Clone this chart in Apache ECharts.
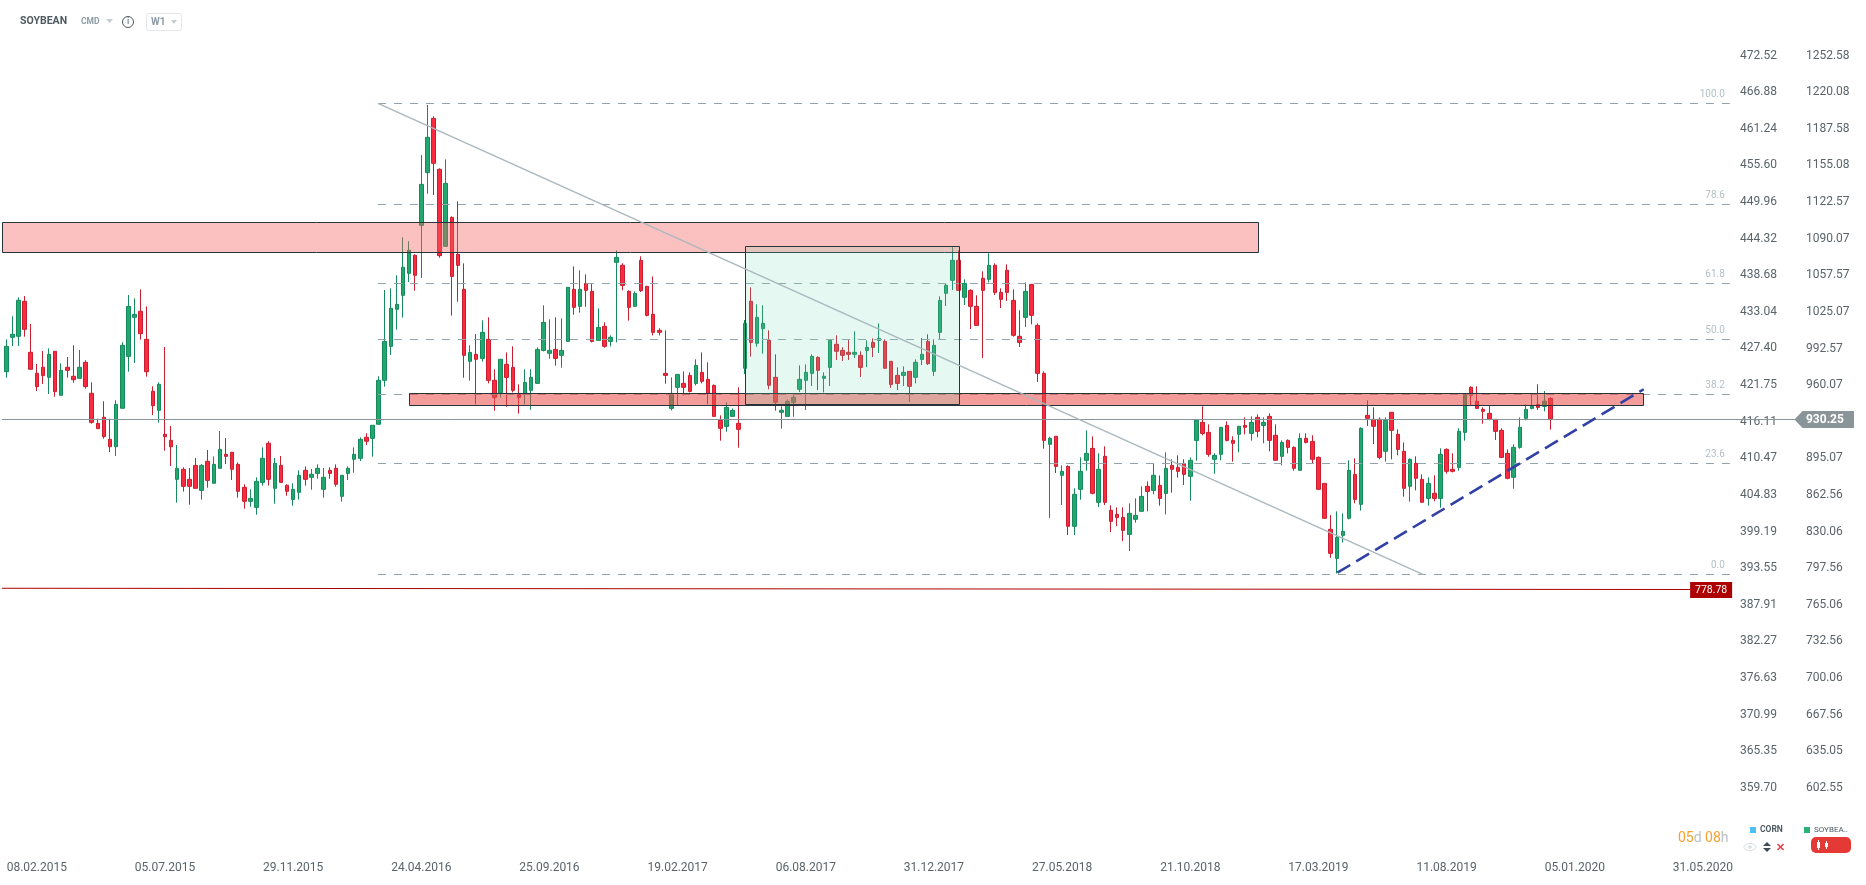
<!DOCTYPE html>
<html>
<head>
<meta charset="utf-8">
<style>html,body{margin:0;padding:0;background:#fff}#c{width:1866px;height:885px}</style>
<script src="https://cdn.jsdelivr.net/npm/echarts@6/dist/echarts.min.js"></script>
</head>
<body>
<div id="c"></div>
<script>
// Weekly SOYBEAN candles (prices)
const candleOpen = [
972.0,1002.5,1003.4,1034.5,989.2,970.5,975.9,967.0,990.1,951.0,
975.9,967.9,966.1,980.3,952.8,926.1,931.5,911.9,905.4,939.5,
985.6,1020.3,1025.6,1000.7,954.6,937.7,916.4,911.0,876.4,885.3,
876.4,888.8,866.6,892.4,872.9,886.2,898.6,900.4,889.7,869.3,
856.9,851.5,873.7,908.4,868.4,888.8,871.1,858.6,864.9,884.4,
878.2,881.7,867.5,884.4,886.2,861.3,881.7,894.2,895.1,913.7,
912.8,925.3,964.3,994.5,1027.4,1039.8,1059.3,1075.3,1101.9,1148.7,
1196.9,1151.7,1083.3,1109.0,1076.2,1045.1,981.2,987.4,983.8,1000.7,
964.3,953.3,978.5,975.8,951.8,952.7,955.4,961.6,990.9,988.3,
991.8,986.5,998.9,1045.1,1030.0,1050.4,1043.3,999.8,1012.2,998.9,
1069.1,1066.4,1043.3,1030.0,1070.8,1047.8,1022.9,1008.7,970.5,939.4,
958.1,961.6,968.7,961.6,971.4,965.2,959.8,928.8,923.4,932.3,
926.1,975.0,1034.5,997.2,1010.2,999.8,967.0,935.9,932.3,944.8,
956.3,964.3,970.5,984.7,966.1,975.8,996.3,990.9,989.2,987.4,
986.5,990.9,998.0,999.8,998.9,981.2,968.7,968.7,972.3,967.0,
982.9,998.9,972.3,1006.9,1041.6,1053.1,1070.9,1038.0,1044.2,1030.0,
1054.9,1054.0,1066.4,1042.4,1062.0,1035.3,1003.4,1020.2,1049.5,1013.1,
970.5,907.5,914.6,880.0,887.9,834.7,867.5,893.3,903.9,856.0,
896.8,848.9,845.3,842.6,827.5,840.9,848.0,870.2,866.6,871.1,
863.9,888.8,887.0,890.6,879.1,911.0,927.0,918.1,894.2,898.6,
924.3,911.0,916.4,924.3,917.2,931.4,924.3,932.3,915.5,896.8,
911.0,904.8,884.4,912.8,910.1,895.9,872.8,832.0,806.2,826.7,
841.8,880.8,854.2,933.2,929.7,929.7,901.3,935.9,916.4,901.3,
870.2,890.6,876.4,859.5,864.0,859.5,903.0,885.3,887.0,918.1,
958.1,945.7,938.5,935.0,929.7,919.9,899.5,878.2,904.8,930.6,
939.4,943.0,941.2,948.3];
const candleClose = [
994.5,1005.2,1035.4,1009.6,974.1,958.7,968.5,987.4,954.3,973.2,
973.2,964.9,975.9,958.7,927.0,921.4,914.3,905.4,943.0,995.4,
1030.0,1022.9,1005.8,972.0,941.8,960.8,914.3,905.4,886.2,870.2,
870.2,868.4,888.8,875.5,889.7,903.0,896.8,885.3,865.8,856.9,
859.5,874.6,895.1,876.4,890.6,873.7,865.8,867.5,880.0,876.4,
880.9,886.2,878.2,881.7,872.0,880.0,886.2,898.6,911.9,910.2,
924.4,964.3,998.9,1028.3,1031.8,1064.7,1079.8,1057.6,1138.3,1180.1,
1157.0,1075.0,1139.2,1056.6,1066.4,986.5,989.1,983.0,1006.9,964.3,
949.2,983.0,966.9,955.4,949.2,962.5,966.9,991.8,1015.8,990.9,
983.8,990.9,1046.9,1029.1,1045.1,1044.2,998.9,1011.3,994.5,1002.5,
1073.5,1048.6,1029.1,1041.5,1043.9,1022.0,1006.9,1006.9,968.7,952.7,
969.6,958.1,954.5,977.6,963.4,952.7,932.3,921.7,940.3,937.6,
920.8,1014.9,998.0,1020.2,1014.9,959.9,944.8,937.7,945.7,949.2,
965.2,971.4,985.6,973.2,967.9,999.8,990.1,986.5,987.4,989.2,
975.8,993.6,993.6,1001.6,975.0,960.7,961.6,971.4,959.0,980.3,
987.4,979.1,995.4,1035.3,1048.7,1070.9,1044.2,1050.4,1030.0,1013.1,
1044.2,1066.4,1042.4,1036.2,1042.4,1004.3,998.0,1043.3,1022.0,970.5,
911.0,912.8,887.9,883.5,834.7,863.1,883.5,899.5,864.0,885.3,
856.0,839.1,842.6,831.1,846.2,844.4,861.3,865.7,880.0,859.5,
886.2,885.3,883.5,880.8,893.3,928.8,917.2,898.6,897.7,922.6,
911.0,908.4,923.5,922.6,927.0,919.0,927.0,911.0,893.3,909.2,
904.8,886.2,912.8,909.2,894.2,867.5,841.8,810.7,824.9,830.2,
884.4,858.6,921.7,930.6,923.5,895.9,928.8,919.9,903.0,868.4,
894.2,877.3,856.0,872.8,859.5,898.6,883.5,883.5,919.0,951.9,
951.0,939.4,936.8,929.7,919.0,895.9,877.3,904.8,922.6,938.5,
941.2,940.3,945.7,930.25];
const candleLow = [
966.7,994.8,994.8,1003.1,974.1,954.9,961.1,952.2,949.8,951.0,
966.7,962.2,966.1,956.9,925.8,921.4,912.5,900.7,897.1,939.5,
972.0,979.7,1000.4,967.6,933.5,926.7,901.9,888.3,855.7,865.5,
853.9,868.4,858.4,869.0,872.9,886.2,890.0,875.8,860.1,850.4,
852.1,845.0,870.8,870.8,854.8,873.7,861.9,853.0,858.4,870.8,
867.2,877.0,860.1,877.0,869.9,856.6,875.8,882.3,892.7,906.9,
896.5,925.3,958.7,986.8,1009.3,1020.0,1051.6,1043.9,1055.2,1130.0,
1128.9,1073.2,1083.3,1021.7,1034.1,966.6,964.0,943.0,980.9,961.6,
937.3,949.2,940.9,953.6,934.7,943.0,938.2,961.6,990.0,983.5,
977.3,975.5,998.9,1022.6,1024.4,1029.7,998.0,999.8,993.3,994.5,
998.0,1044.2,1017.3,1030.0,1042.7,1021.1,1004.2,1004.2,961.3,937.6,
942.1,951.0,953.6,959.8,961.6,943.0,932.3,910.7,918.7,932.3,
904.5,969.9,985.3,994.2,988.0,956.3,937.4,921.4,932.3,932.0,
953.9,938.0,959.3,955.7,953.6,959.3,982.4,981.5,982.4,984.1,
967.3,976.1,985.0,988.6,975.0,957.5,955.7,959.3,945.1,961.6,
977.9,977.9,968.2,1000.7,1030.3,1044.5,1044.2,1031.2,1009.9,1013.1,
984.1,1051.3,1040.1,1028.5,1034.8,1003.1,993.9,1011.7,1014.0,962.8,
903.6,842.1,882.0,853.6,827.0,827.0,858.3,884.1,863.1,851.8,
853.6,829.6,834.9,821.6,812.8,837.9,848.0,848.0,863.1,853.0,
845.3,864.6,877.9,871.4,857.4,893.0,915.5,896.5,881.4,893.3,
910.1,892.1,900.4,916.4,910.7,913.7,908.4,901.3,893.3,888.8,
899.5,884.1,884.4,908.4,890.6,867.5,841.8,806.8,792.9,820.4,
840.9,855.1,848.6,923.8,907.8,894.2,892.1,894.2,897.7,861.0,
856.6,866.6,856.0,853.0,856.9,851.2,881.4,882.6,884.1,910.7,
942.1,939.4,925.8,928.8,911.3,895.6,876.4,868.1,903.6,928.8,
938.5,938.0,936.8,920.5];
const candleHigh = [
1000.7,1021.2,1038.0,1039.2,1014.3,978.8,990.4,992.7,990.1,979.4,
985.0,995.4,991.3,982.1,962.5,930.3,945.7,930.3,946.6,998.1,
1040.1,1037.1,1045.1,1030.0,959.0,962.5,993.9,923.8,906.9,887.1,
886.5,895.4,890.0,902.5,896.8,919.3,913.1,900.4,891.5,872.0,
867.5,878.2,904.8,910.2,895.4,897.1,872.0,872.9,884.4,887.9,
885.6,889.7,886.5,887.1,889.7,880.0,887.9,904.8,913.7,917.3,
924.4,967.9,1044.5,1046.0,1057.6,1091.3,1087.8,1076.2,1164.4,1208.8,
1198.7,1152.5,1160.5,1109.9,1123.2,1068.2,995.4,1005.4,1017.6,1020.2,
974.1,983.0,989.1,994.5,960.7,974.1,974.1,993.6,1030.9,1018.4,
1020.2,1019.3,1046.9,1065.5,1062.0,1058.4,1049.8,1028.2,1015.8,1004.2,
1079.7,1068.2,1044.2,1043.3,1074.4,1047.8,1056.6,1010.5,1008.7,967.0,
969.6,972.3,971.4,983.0,989.1,980.3,960.7,933.2,944.8,939.4,
958.1,1017.9,1046.9,1031.8,1030.9,1008.7,987.4,941.2,947.4,951.9,
977.6,978.5,987.4,985.6,971.4,999.8,1004.3,993.6,1000.1,1007.8,
990.1,999.8,1001.6,1014.9,1000.7,981.2,975.8,976.7,972.3,982.9,
1001.9,1005.2,1000.7,1038.9,1050.4,1083.0,1079.7,1054.0,1045.1,1039.8,
1061.1,1077.1,1068.2,1046.0,1067.3,1045.1,1026.5,1051.3,1049.5,1014.9,
972.3,914.3,914.6,888.8,888.8,868.4,895.9,919.9,914.6,899.5,
905.7,853.3,851.5,851.5,855.1,859.5,870.2,874.6,890.6,879.9,
900.4,894.2,897.7,894.2,895.9,929.7,941.2,925.2,899.5,922.6,
927.9,914.6,923.5,931.4,932.3,934.1,931.4,935.0,925.2,911.0,
911.9,905.7,917.2,917.2,915.5,896.8,872.8,844.7,848.0,846.2,
893.3,895.0,922.6,946.5,940.3,931.4,931.4,935.9,920.8,909.2,
895.0,896.8,880.8,878.2,879.9,903.9,903.9,899.5,921.7,951.9,
959.0,959.0,940.3,942.1,929.7,921.7,903.0,907.5,931.4,943.0,
951.9,960.8,954.8,949.2];

// Axis ticks
const soyTicks = [1252.58,1220.08,1187.58,1155.08,1122.57,1090.07,1057.57,1025.07,992.57,960.07,927.56,895.07,862.56,830.06,797.56,765.06,732.56,700.06,667.56,635.05,602.55];
const cornTicks = [472.52,466.88,461.24,455.60,449.96,444.32,438.68,433.04,427.40,421.75,416.11,410.47,404.83,399.19,393.55,387.91,382.27,376.63,370.99,365.35,359.70];
const dateLabels = ['08.02.2015','05.07.2015','29.11.2015','24.04.2016','25.09.2016','19.02.2017','06.08.2017','31.12.2017','27.05.2018','21.10.2018','17.03.2019','11.08.2019','05.01.2020','31.05.2020'];

// Annotations, in (week index, price)
const fibLevels = [['100.0',1210.3],['78.6',1120.8],['61.8',1050.5],['50.0',1001.2],['38.2',951.9],['23.6',890.8],['0.0',792.1]];
const fibSpan = [60.9,282.4];
const zones = [
  [-0.72,205.1,1104.6,1078.0,'rgba(245,100,100,0.4)'],
  [66.0,268.2,953.3,943.0,'rgba(235,75,70,0.55)'],
  [121.1,156.1,1084.0,943.3,'rgba(110,215,180,0.18)']
];
const diagonalLine = [60.9,1210.3,232.1,792.1];
const trendLine = [218.1,793.5,268.3,956.4];
const lastPrice = 930.25;
const alertPrice = 778.78;
const alertLineStart = 779.7;

const N = 294, W = 6.103;
const categories = new Array(N).fill('');
dateLabels.forEach((d,i)=>{categories[5+21*i]=d;});
const candles = candleOpen.map((o,i)=>[i,o,candleClose[i],candleLow[i],candleHigh[i]]);

const soyMin = 547.3, soyMax = 1284.25;
const k = (cornTicks[0]-cornTicks[20])/(soyTicks[0]-soyTicks[20]);
const toCorn = v => cornTicks[20]+(v-soyTicks[20])*k;

const FONT = 'Roboto';
const LABEL = '#5a6469';
const crisp = v => Math.round(v)+0.5;

function fibItem(params, api){
  const l = fibLevels[params.dataIndex];
  const a = api.coord([fibSpan[0],l[1]]), b = api.coord([fibSpan[1],l[1]]);
  const y = crisp(a[1]);
  return {type:'group',children:[
    {type:'line',shape:{x1:a[0],y1:y,x2:b[0],y2:y},style:{stroke:'#94a3ab',lineWidth:1,lineDash:[8,8]}},
    {type:'text',style:{x:b[0]-5,y:y-9,text:l[0],align:'right',verticalAlign:'middle',fill:'#b4c0c6',font:'10px '+FONT}}
  ]};
}
function zoneItem(params, api){
  const z = zones[params.dataIndex];
  const a = api.coord([z[0],z[2]]), b = api.coord([z[1],z[3]]);
  const x = crisp(a[0]), y = crisp(a[1]);
  return {type:'rect',shape:{x:x,y:y,width:Math.round(b[0]-a[0]),height:Math.round(b[1]-a[1])},
    style:{fill:z[4],stroke:'#27343a',lineWidth:1}};
}
function segItem(params, api){
  const s = params.dataIndex===0?diagonalLine:trendLine;
  const a = api.coord([s[0],s[1]]), b = api.coord([s[2],s[3]]);
  return {type:'line',shape:{x1:a[0],y1:a[1],x2:b[0],y2:b[1]},
    style:params.dataIndex===0?{stroke:'#aab7bd',lineWidth:1.4}:{stroke:'#3140a5',lineWidth:2.6,lineDash:[15,7]}};
}
function hItem(params, api){
  if(params.dataIndex===0){
    const a = api.coord([-0.7,lastPrice]), b = api.coord([293,lastPrice]);
    const y = crisp(b[1]), x = b[0];
    return {type:'group',children:[
      {type:'line',shape:{x1:a[0],y1:y,x2:x+1,y2:y},style:{stroke:'#8a9599',lineWidth:1}},
      {type:'polygon',shape:{points:[[x,y],[x+8,y-8.5],[x+59.5,y-8.5],[x+59.5,y+8.5],[x+8,y+8.5]]},style:{fill:'#8a9599'}},
      {type:'text',style:{x:x+11.5,y:y,text:lastPrice.toFixed(2),align:'left',verticalAlign:'middle',fill:'#fff',font:'bold 12px '+FONT}}
    ]};
  }
  const a = api.coord([-0.7,alertLineStart]), b = api.coord([275.9,alertPrice]);
  const y = crisp(b[1]), x = b[0];
  return {type:'group',children:[
    {type:'line',shape:{x1:a[0],y1:a[1],x2:x,y2:y},style:{stroke:'#ad0000',lineWidth:1}},
    {type:'rect',shape:{x:x,y:y-7.5,width:42,height:16},style:{fill:'#ad0000'}},
    {type:'text',style:{x:x+21,y:y+0.5,text:alertPrice.toFixed(2),align:'center',verticalAlign:'middle',fill:'#fff',font:'10.5px '+FONT}}
  ]};
}

const chrome = [
  {type:'text',x:20,y:16,style:{text:'SOYBEAN',fill:'#4d5a60',font:'bold 10.5px '+FONT}},
  {type:'text',x:81,y:17,style:{text:'CMD',fill:'#8a9ba5',font:'bold 8.5px '+FONT}},
  {type:'polygon',shape:{points:[[106,19],[113,19],[109.5,23]]},style:{fill:'#c6cdd1'}},
  {type:'circle',shape:{cx:128,cy:22,r:5.5},style:{fill:'none',stroke:'#4d5a60',lineWidth:1}},
  {type:'text',x:128,y:22,style:{text:'i',fill:'#4d5a60',font:'9px '+FONT,align:'center',verticalAlign:'middle'}},
  {type:'rect',shape:{x:146.5,y:13.5,width:35,height:17,r:2},style:{fill:'#fff',stroke:'#e3e7e9',lineWidth:1}},
  {type:'text',x:151,y:17,style:{text:'W1',fill:'#8a9ba5',font:'bold 10px '+FONT}},
  {type:'polygon',shape:{points:[[171,20],[177,20],[174,24]]},style:{fill:'#c6cdd1'}},
  {type:'text',x:1678,y:831,style:{text:'{a|05}{b|d }{a|08}{b|h}',rich:{a:{fill:'#f7a030',font:'14px '+FONT},b:{fill:'#b9c1c5',font:'14px '+FONT}}}},
  {type:'rect',shape:{x:1750,y:827,width:6,height:6},style:{fill:'#4fc0f5'}},
  {type:'text',x:1760,y:825,style:{text:'CORN',fill:'#4d5a60',font:'bold 8.5px '+FONT}},
  {type:'rect',shape:{x:1804,y:827,width:6,height:6},style:{fill:'#2bb078'}},
  {type:'text',x:1814,y:825.5,style:{text:'SOYBEA..',fill:'#4d5a60',font:'8px '+FONT}},
  {type:'ellipse',shape:{cx:1750,cy:847,rx:6,ry:3.5},style:{fill:'none',stroke:'#d8dee1',lineWidth:1}},
  {type:'circle',shape:{cx:1750,cy:847,r:1.8},style:{fill:'#d8dee1'}},
  {type:'polygon',shape:{points:[[1763,846],[1771,846],[1767,842]]},style:{fill:'#3f4c52'}},
  {type:'polygon',shape:{points:[[1763,848],[1771,848],[1767,852]]},style:{fill:'#3f4c52'}},
  {type:'line',shape:{x1:1777.5,y1:844,x2:1783.5,y2:850},style:{stroke:'#e8404a',lineWidth:1.6}},
  {type:'line',shape:{x1:1783.5,y1:844,x2:1777.5,y2:850},style:{stroke:'#e8404a',lineWidth:1.6}},
  {type:'rect',shape:{x:1811,y:837,width:40,height:16,r:5},style:{fill:'#e53935'}},
  {type:'line',shape:{x1:1818.5,y1:840,x2:1818.5,y2:850},style:{stroke:'#fff',lineWidth:1}},
  {type:'rect',shape:{x:1817,y:842,width:3,height:6},style:{fill:'#fff'}},
  {type:'line',shape:{x1:1826.5,y1:841,x2:1826.5,y2:849},style:{stroke:'#fff',lineWidth:1}},
  {type:'rect',shape:{x:1825,y:843,width:3,height:4},style:{fill:'#fff'}}
];

const chart = echarts.init(document.getElementById('c'),null,{renderer:'canvas'});
chart.setOption({
  animation:false,
  backgroundColor:'#fff',
  textStyle:{fontFamily:FONT},
  grid:{left:3.25,top:20,width:N*W,height:830,containLabel:false},
  xAxis:[
    {type:'category',data:categories,boundaryGap:true,
     axisLine:{show:false},axisTick:{show:false},splitLine:{show:false},
     axisLabel:{interval:(i)=>categories[i]!=='',color:LABEL,fontSize:12,fontFamily:FONT,margin:12,hideOverlap:false}},
    {type:'value',show:false,min:-0.5,max:N-0.5,splitLine:{show:false}}
  ],
  yAxis:[
    {type:'value',position:'right',min:soyMin,max:soyMax,scale:true,
     axisLine:{show:false},axisTick:{show:false},splitLine:{show:false},
     axisLabel:{customValues:soyTicks,color:LABEL,fontSize:12,fontFamily:FONT,margin:8.4,formatter:v=>v.toFixed(2)}},
    {type:'value',position:'right',min:toCorn(soyMin),max:toCorn(soyMax),scale:true,
     axisLine:{show:false},axisTick:{show:false},splitLine:{show:false},
     axisLabel:{customValues:cornTicks,inside:true,color:LABEL,fontSize:12,fontFamily:FONT,margin:20.6,formatter:v=>v.toFixed(2)}}
  ],
  graphic:chrome,
  series:[
    {type:'candlestick',name:'SOYBEAN',xAxisIndex:0,yAxisIndex:0,barWidth:4,z:2,
     encode:{x:0,y:[1,2,3,4]},data:candles,
     itemStyle:{color:'#22a86e',color0:'#fb2a3f',borderColor:'#158a5c',borderColor0:'#c81e30',borderWidth:1}},
    {type:'custom',name:'fib',xAxisIndex:1,yAxisIndex:0,z:3,clip:false,silent:true,renderItem:fibItem,
     encode:{x:0,y:1},data:fibLevels.map(l=>[fibSpan[0],l[1]])},
    {type:'custom',name:'levels',xAxisIndex:1,yAxisIndex:0,z:3,clip:false,silent:true,renderItem:hItem,
     encode:{x:0,y:1},data:[[0,lastPrice],[0,alertPrice]]},
    {type:'custom',name:'zones',xAxisIndex:1,yAxisIndex:0,z:4,clip:false,silent:true,renderItem:zoneItem,
     encode:{x:0,y:1},data:zones.map(z=>[Math.max(z[0],0),z[2]])},
    {type:'custom',name:'lines',xAxisIndex:1,yAxisIndex:0,z:5,clip:false,silent:true,renderItem:segItem,
     encode:{x:0,y:1},data:[[diagonalLine[0],diagonalLine[1]],[trendLine[0],trendLine[1]]]}
  ]
});
</script>
</body>
</html>
